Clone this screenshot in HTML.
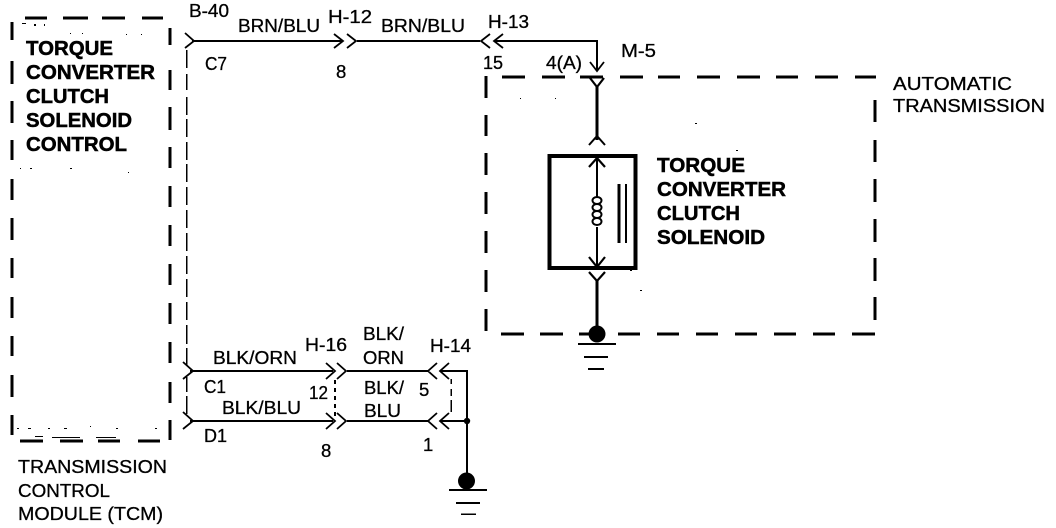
<!DOCTYPE html>
<html><head><meta charset="utf-8"><style>
html,body{margin:0;padding:0;background:#fff}
svg{display:block}
text{font-family:"Liberation Sans",sans-serif;font-size:18.5px;fill:#000;stroke:#000;stroke-width:.3}
.b{font-weight:bold;font-size:20px;stroke-width:.5}
</style></head><body>
<svg width="1056" height="528" viewBox="0 0 1056 528" xmlns="http://www.w3.org/2000/svg">
<g fill="none" stroke="#000" stroke-linecap="butt">
<g shape-rendering="crispEdges">
<!-- TCM box -->
<path stroke-width="3" d="M12 22V40M12 61V84M12 101V123M12 140V160M12 179V200M12 218V240M12 258V278M12 297V318M12 336V356M12 375V397M12 415V435"/>
<path stroke-width="3" d="M170 28V45M170 70V90M170 107V130M170 147V168M170 186V207M170 225V246M170 264V285M170 303V324M170 342V363M170 382V403M170 420V440"/>
<path stroke-width="3" d="M25 18H47M63 18H88M102 18H125M142 18H163M20 441H43M60 441H83M98 441H120M138 441H160"/>
<path stroke-width="1.500" d="M186.500 50V68M186.500 74V90M186.500 97V115M186.500 119V137M186.500 142V160M186.500 164V182M186.500 187V205M186.500 210V228M186.500 233V251M186.500 256V274M186.500 279V297M186.500 302V320M186.500 325V344M186.500 348V366M186.500 377V392M186.500 396V414"/>
<!-- AT box -->
<path stroke-width="3" d="M502 77H525M542 77H565M580 77H603M620 77H643M658 77H680M697 77H720M737 77H760M776 77H798M815 77H838M855 77H876"/>
<path stroke-width="3" d="M501 334H524M540 334H563M579 334H590M618 334H640M657 334H679M696 334H718M735 334H757M774 334H796M813 334H835M852 334H875"/>
<path stroke-width="3" d="M486 76V98M486 115V136M486 153V175M486 192V214M486 231V253M486 270V292M486 309V331"/>
<path stroke-width="3" d="M875 100V122M875 140V162M875 179V202M875 219V242M875 258V281M875 297V320"/>
<!-- top wires -->
<path stroke-width="2" d="M192 41H343M357 41H480"/>
<path stroke-width="2" d="M495 41H597V71"/>
<path stroke-width="3" d="M597 87V140"/>
<!-- solenoid -->
<rect x="549.500" y="156" width="86" height="112" stroke-width="4"/>
<path stroke-width="2" d="M597 158V197M597 227V267"/>
<path stroke-width="3" d="M619 184V243"/>
<path stroke-width="2" d="M626 184V243"/>
<path stroke-width="3" d="M597 281V330"/>
<!-- ground 1 -->
<path stroke-width="2" d="M578 344H616M584 357H608M588 369H604"/>
<!-- lower wires -->
<path stroke-width="2" d="M190 371H333M347 371H428M190 421H333M347 421H428"/>
<path stroke-width="2" d="M440 371H467V481M440 421H467"/>
<path stroke-width="2" stroke-dasharray="4 4" d="M335 380V416"/>
<path stroke-width="1.500" d="M451 379V384M451 389V396M451 400V412"/>
<!-- ground 2 -->
<path stroke-width="2" d="M449 490H487M456 503H480"/>
<path stroke-width="1.500" d="M461 514H476"/>
</g>
<path stroke-width="1.800" d="M185 33L194 41L185 48M334 34L343 41L334 48M347 34L356 41L347 48M490 34L481 41L490 48M503 34L494 41L503 48"/>
<path stroke-width="1.800" d="M590 62L597 71L604 62"/>
<path stroke-width="2.200" d="M590 78L597 87L604 78"/>
<path stroke-width="2" d="M589 145L597 136L605 145"/>
<path stroke-width="2.200" d="M589 167L597 158L605 167M589 257L597 267L605 257M589 272L597 281L605 272"/>
<path stroke-width="2" d="M597 197C603 197 603 204 597 204C591 204 591 197 597 197M597 204C603 204 603 211 597 211C591 211 591 204 597 204M597 211C603 211 603 218 597 218C591 218 591 211 597 211M597 218C603 218 603 225 597 225C591 225 591 218 597 218"/>
<path stroke-width="1.800" d="M183 362L193 371L183 379M183 412L193 421L183 429M326 363L335 371L326 379M337 363L346 371L337 379M326 413L335 421L326 429M337 413L346 421L337 429M437 363L428 371L437 379M449 363L440 371L449 379M437 413L428 421L437 429M449 413L440 421L449 429"/>
</g>
<circle cx="597" cy="334" r="8.500"/>
<circle cx="466.500" cy="481" r="8.500"/>
<circle cx="467" cy="421" r="3.200"/>
<!-- scan specks -->
<path fill="#000" d="M22 23h4v1h-4zM34 24h2v2h-2zM44 24h1v2h-1zM70 33h1v1h-1zM82 33h1v1h-1zM126 34h1v1h-1zM141 34h1v1h-1zM20 168h1v1h-1zM30 168h2v1h-2zM70 168h2v1h-2zM128 172h1v1h-1zM17 428h2v1h-2zM28 428h3v1h-3zM48 428h2v1h-2zM64 428h3v1h-3zM90 426h1v1h-1zM116 428h2v1h-2zM155 428h2v1h-2zM35 436h8v1h-8zM52 437h28v1h-28zM96 437h20v1h-20zM520 98h1v1h-1zM555 98h1v1h-1zM695 123h2v1h-2zM736 150h2v1h-2zM640 290h2v1h-2zM630 270h2v1h-2z"/>
<!-- bold -->
<text class="b" x="26" y="55" textLength="87" lengthAdjust="spacingAndGlyphs">TORQUE</text>
<text class="b" x="26" y="79" textLength="129" lengthAdjust="spacingAndGlyphs">CONVERTER</text>
<text class="b" x="26" y="103" textLength="83" lengthAdjust="spacingAndGlyphs">CLUTCH</text>
<text class="b" x="26" y="127" textLength="106" lengthAdjust="spacingAndGlyphs">SOLENOID</text>
<text class="b" x="26" y="151" textLength="101" lengthAdjust="spacingAndGlyphs">CONTROL</text>
<text class="b" x="657" y="172" textLength="88" lengthAdjust="spacingAndGlyphs">TORQUE</text>
<text class="b" x="657" y="196" textLength="129" lengthAdjust="spacingAndGlyphs">CONVERTER</text>
<text class="b" x="657" y="220" textLength="83" lengthAdjust="spacingAndGlyphs">CLUTCH</text>
<text class="b" x="657" y="244" textLength="108" lengthAdjust="spacingAndGlyphs">SOLENOID</text>
<!-- regular -->
<text x="189" y="17" textLength="40" lengthAdjust="spacingAndGlyphs">B-40</text>
<text x="238" y="32" textLength="82" lengthAdjust="spacingAndGlyphs">BRN/BLU</text>
<text x="328" y="23" textLength="44" lengthAdjust="spacingAndGlyphs">H-12</text>
<text x="205" y="70" textLength="22" lengthAdjust="spacingAndGlyphs">C7</text>
<text x="336" y="78">8</text>
<text x="381" y="32" textLength="84" lengthAdjust="spacingAndGlyphs">BRN/BLU</text>
<text x="488" y="28" textLength="41" lengthAdjust="spacingAndGlyphs">H-13</text>
<text x="483" y="69" textLength="20" lengthAdjust="spacingAndGlyphs">15</text>
<text x="546" y="69" textLength="36" lengthAdjust="spacingAndGlyphs">4(A)</text>
<text x="621" y="57" textLength="35" lengthAdjust="spacingAndGlyphs">M-5</text>
<text x="893" y="90" textLength="119" lengthAdjust="spacingAndGlyphs">AUTOMATIC</text>
<text x="893" y="112" textLength="152" lengthAdjust="spacingAndGlyphs">TRANSMISSION</text>
<text x="213" y="364" textLength="84" lengthAdjust="spacingAndGlyphs">BLK/ORN</text>
<text x="305" y="351" textLength="42" lengthAdjust="spacingAndGlyphs">H-16</text>
<text x="363" y="340" textLength="41" lengthAdjust="spacingAndGlyphs">BLK/</text>
<text x="363" y="364" textLength="41" lengthAdjust="spacingAndGlyphs">ORN</text>
<text x="430" y="352" textLength="41" lengthAdjust="spacingAndGlyphs">H-14</text>
<text x="204" y="393" textLength="22" lengthAdjust="spacingAndGlyphs">C1</text>
<text x="309" y="399" textLength="19" lengthAdjust="spacingAndGlyphs">12</text>
<text x="364" y="394" textLength="40" lengthAdjust="spacingAndGlyphs">BLK/</text>
<text x="419" y="396">5</text>
<text x="222" y="414" textLength="79" lengthAdjust="spacingAndGlyphs">BLK/BLU</text>
<text x="364" y="417" textLength="37" lengthAdjust="spacingAndGlyphs">BLU</text>
<text x="204" y="442" textLength="23" lengthAdjust="spacingAndGlyphs">D1</text>
<text x="321" y="457">8</text>
<text x="423" y="451">1</text>
<text x="18" y="473" textLength="149" lengthAdjust="spacingAndGlyphs">TRANSMISSION</text>
<text x="18" y="497" textLength="92" lengthAdjust="spacingAndGlyphs">CONTROL</text>
<text x="18" y="520" textLength="145" lengthAdjust="spacingAndGlyphs">MODULE (TCM)</text>
</svg>
</body></html>
